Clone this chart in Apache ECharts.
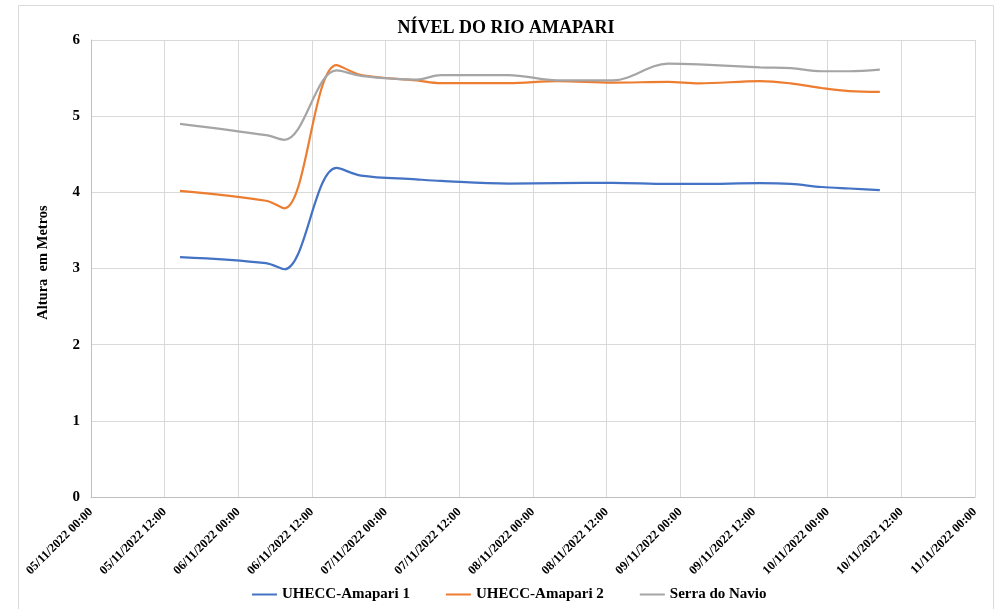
<!DOCTYPE html>
<html><head><meta charset="utf-8">
<script src="https://cdn.jsdelivr.net/npm/echarts@6/dist/echarts.min.js"></script>
<style>html,body{margin:0;padding:0;background:#fff}#c{width:996px;height:609px}</style>
</head><body><div id="c"></div>
<script>
const times = ['05/11/2022 14:30','06/11/2022 04:30','06/11/2022 07:30','06/11/2022 16:00','06/11/2022 20:00',
 '07/11/2022 05:00','07/11/2022 09:00','07/11/2022 20:00','08/11/2022 04:00','08/11/2022 13:00',
 '08/11/2022 22:00','09/11/2022 03:00','09/11/2022 13:00','09/11/2022 18:00','09/11/2022 23:00',
 '10/11/2022 03:30','10/11/2022 08:30'];
const amapari1 = [3.15,3.07,2.99,4.32,4.22,4.17,4.15,4.115,4.12,4.125,4.11,4.11,4.12,4.11,4.07,4.05,4.03];
const amapari2 = [4.02,3.89,3.79,5.67,5.54,5.47,5.435,5.435,5.46,5.44,5.45,5.43,5.46,5.43,5.37,5.33,5.32];
const serra    = [4.90,4.75,4.69,5.60,5.53,5.48,5.54,5.54,5.47,5.47,5.69,5.68,5.64,5.63,5.59,5.59,5.61];
const seriesNames = ['UHECC-Amapari 1','UHECC-Amapari 2','Serra do Navio'];
const xMinLabel = '05/11/2022 00:00', xMaxLabel = '11/11/2022 00:00';

function parse(s){const [d,t]=s.split(' ');const [dd,mm,yy]=d.split('/').map(Number);const [h,mi]=t.split(':').map(Number);return Date.UTC(yy,mm-1,dd,h,mi);}
function p2(n){return String(n).padStart(2,'0');}
function fmt(v){const d=new Date(v);return p2(d.getUTCDate())+'/'+p2(d.getUTCMonth()+1)+'/'+d.getUTCFullYear()+' '+p2(d.getUTCHours())+':'+p2(d.getUTCMinutes());}
const xs = times.map(parse);
const mk = arr => xs.map((x,i)=>[x,arr[i]]);
const F = 'Liberation Serif';
const chart = echarts.init(document.getElementById('c'));
chart.setOption({
  animation:false,
  color:['#4472C4','#ED7D31','#A5A5A5'],
  graphic:[{type:'rect',shape:{x:18.5,y:5.5,width:975,height:620},style:{fill:'none',stroke:'#d9d9d9',lineWidth:1},z:-1}],
  title:{text:'NÍVEL DO RIO AMAPARI',left:501,textAlign:'center',top:14,textStyle:{fontFamily:F,fontSize:18,fontWeight:'bold',color:'#000'}},
  grid:{left:91,right:21,top:40,bottom:112},
  legend:{bottom:2,left:247,icon:'rect',itemWidth:25,itemHeight:2,itemGap:36,
    textStyle:{fontFamily:F,fontSize:15,fontWeight:'bold',color:'#000'},data:seriesNames},
  xAxis:{type:'value',min:parse(xMinLabel),max:parse(xMaxLabel),interval:12*3600*1000,
    axisLine:{lineStyle:{color:'#bfbfbf'}},axisTick:{show:false},
    splitLine:{show:true,lineStyle:{color:'#d9d9d9'}},
    axisLabel:{rotate:45,formatter:fmt,fontFamily:F,fontSize:12.5,fontWeight:'bold',color:'#000',margin:13,showMinLabel:true,showMaxLabel:true}},
  yAxis:{type:'value',min:0,max:6,interval:1,name:'Altura  em Metros',nameLocation:'middle',nameGap:40,nameRotate:90,
    nameTextStyle:{fontFamily:F,fontSize:14.5,fontWeight:'bold',color:'#000',padding:[0,0,0,12]},
    axisLine:{show:true,lineStyle:{color:'#bfbfbf'}},axisTick:{show:false},
    splitLine:{lineStyle:{color:'#d9d9d9'}},
    axisLabel:{fontFamily:F,fontSize:15,fontWeight:'bold',color:'#000',margin:11}},
  series:[
    {name:seriesNames[0],type:'line',data:mk(amapari1),smooth:0.35,showSymbol:false,lineStyle:{width:2.2}},
    {name:seriesNames[1],type:'line',data:mk(amapari2),smooth:0.35,showSymbol:false,lineStyle:{width:2.2}},
    {name:seriesNames[2],type:'line',data:mk(serra),smooth:0.35,showSymbol:false,lineStyle:{width:2.2}}
  ]
});
</script></body></html>
